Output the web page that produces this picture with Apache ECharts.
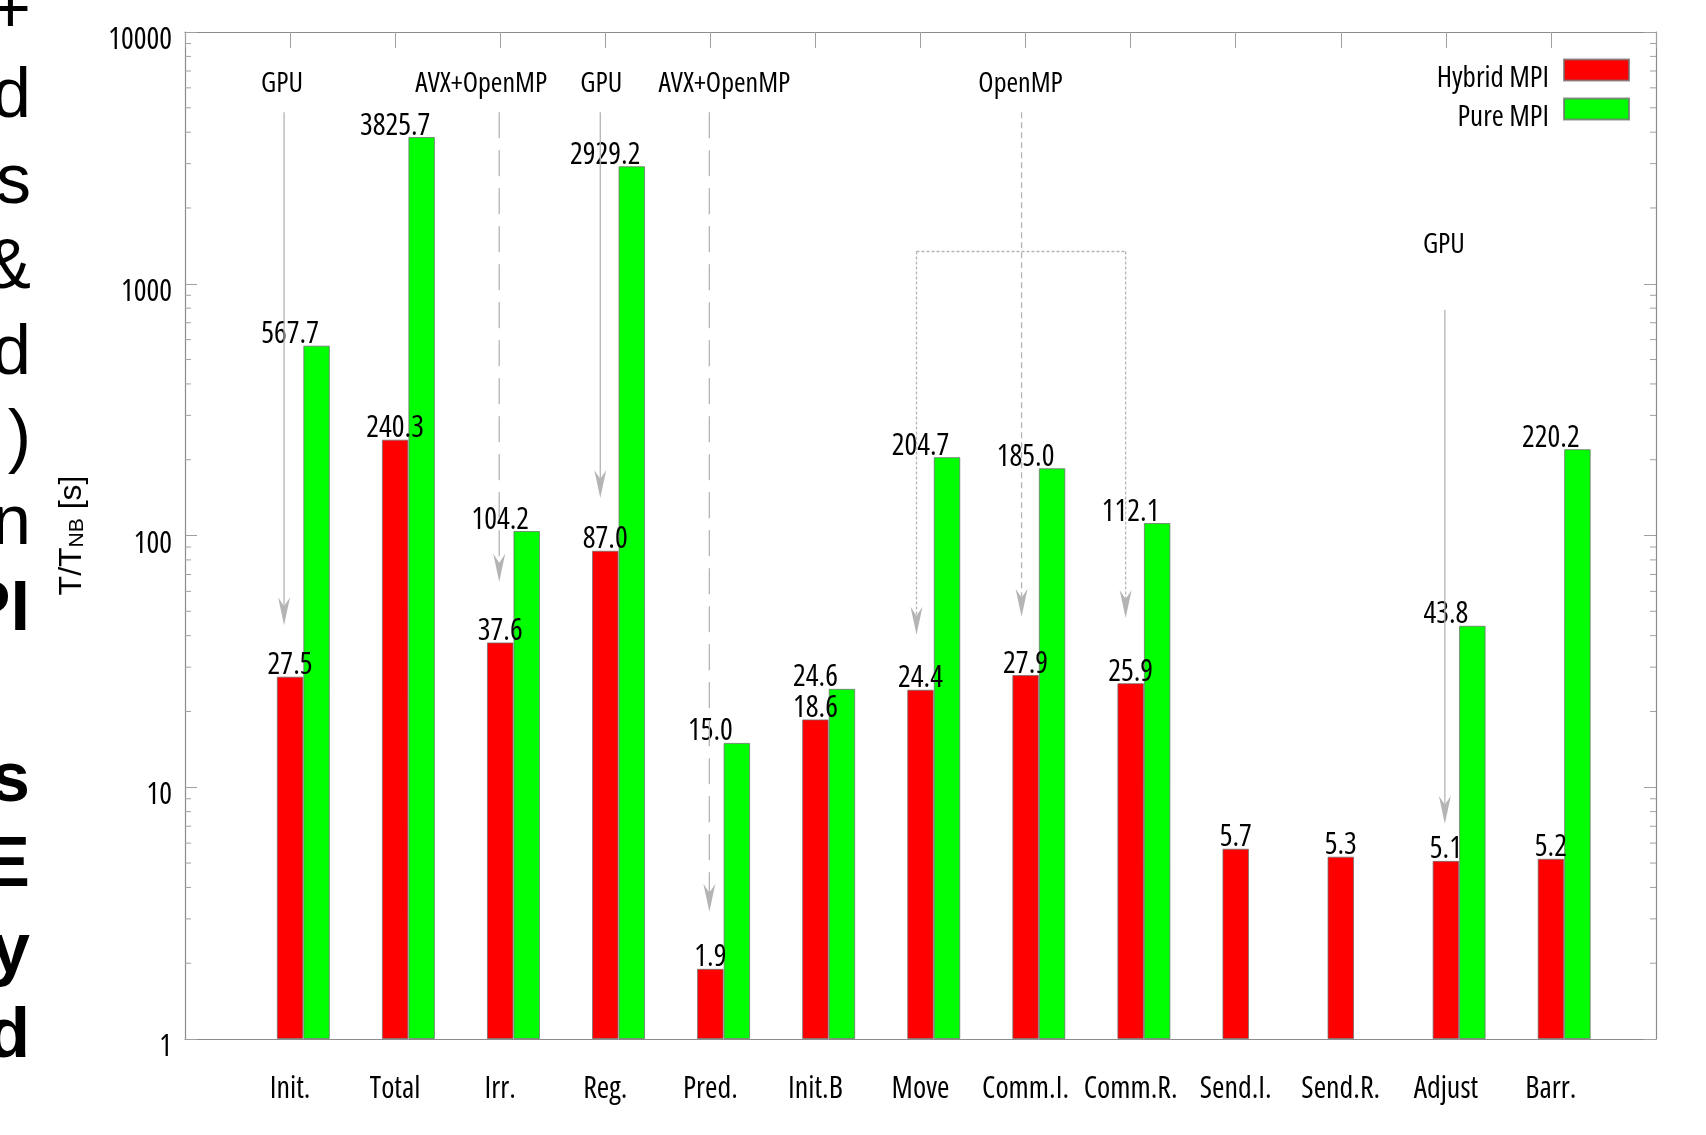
<!DOCTYPE html>
<html>
<head>
<meta charset="utf-8">
<script src="https://cdn.jsdelivr.net/npm/echarts@6/dist/echarts.min.js"></script>
<style>
  html, body { margin: 0; padding: 0; background: #fff; }
  #chart { width: 1706px; height: 1135px; }
</style>
</head>
<body>
<div id="chart"></div>
<script>
// ---- data -------------------------------------------------------------
const categories = ['Init.', 'Total', 'Irr.', 'Reg.', 'Pred.', 'Init.B', 'Move',
  'Comm.I.', 'Comm.R.', 'Send.I.', 'Send.R.', 'Adjust', 'Barr.'];
const hybridMPI = [27.5, 240.3, 37.6, 87.0, 1.9, 18.6, 24.4, 27.9, 25.9, 5.7, 5.3, 5.1, 5.2];
const pureMPI = [567.7, 3825.7, 104.2, 2929.2, 15.0, 24.6, 204.7, 185.0, 112.1, null, null, 43.8, 220.2];
const yTicks = [1, 10, 100, 1000, 10000];

// annotation texts (speed-up technique) and where they sit, in data units
const noteTexts = ['GPU', 'AVX+OpenMP', 'GPU', 'AVX+OpenMP', 'OpenMP', 'GPU'];
const noteCategories = ['Init.', 'Irr.', 'Reg.', 'Pred.', 'Comm.I.', 'Adjust'];
const noteValues = [6370, 6370, 6370, 6370, 6370, 1463];

// arrows: start / end value per category
const arrowCategories = ['Init.', 'Irr.', 'Reg.', 'Pred.', 'Comm.I.', 'Move', 'Comm.R.', 'Adjust'];
const arrowFrom = [4800, 4800, 4800, 4800, 4800, 1343, 1343, 789];
const arrowTo = [44, 65.5, 141, 3.2, 47.6, 40.3, 47, 7.16];

// horizontal bracket joining the OpenMP arrows
const bracketCategories = ['Move', 'Comm.R.'];
const bracketValue = 1343;

// line endings of the neighbouring text column, clipped by the page edge
const sideText = ['+', 'd', 's', '&', 'd', ')', 'n', 'PI', '', 's', 'E', 'y', 'd'];

// ---- look & layout ----------------------------------------------------
const COND = '"Open Sans"';          // used with the "condensed" stretch keyword
const STRETCH = 'condensed';
const SANS = '"Liberation Sans", Arial, Helvetica, sans-serif';
const FRAME = '#8c8c8c';
const TICK = '#a0a0a0';
const ARROW = '#b4b4b4';
const BAR_W = 26.5;

const noteDx = [-8, -19, -4, 14, -5, -2];
const noteDy = 3;
const arrowLook = [
  { dash: null, dx: -6 }, { dash: [26, 12], dx: -1 }, { dash: null, dx: -5 }, { dash: [26, 12], dx: -1 },
  { dash: [6, 4], dx: -4 }, { dash: [3, 2], dx: -4 }, { dash: [3, 2], dx: -5 }, { dash: null, dx: -1 }
];
const sideBoldFrom = 7;

// category axis padded with one empty slot on each side
const axisCats = [''].concat(categories, ['']);
const pad = arr => [null].concat(arr, [null]);
const catIndex = c => categories.indexOf(c) + 1;

// minor log ticks 2..9 in every decade
const minorTicks = [];
for (let d = 0; d < yTicks.length - 1; d++) {
  for (let m = 2; m <= 9; m++) minorTicks.push(m * yTicks[d]);
}

const fmt = p => (p.value == null ? '' : Number(p.value).toFixed(1));
const condText = size => ({ fontFamily: COND, fontWeight: STRETCH, fontSize: size, color: '#000' });

const chart = echarts.init(document.getElementById('chart'), null, { renderer: 'canvas' });

const sideGraphics = sideText.map((t, i) => ({
  type: 'text',
  x: i >= sideBoldFrom ? 30 : 31,
  y: 12.5 + i * 85.45,
  silent: true,
  style: {
    text: t,
    fill: '#000',
    font: (i >= sideBoldFrom ? 'bold ' : '') + '70px ' + SANS,
    align: 'right',
    verticalAlign: 'middle'
  }
}));

const option = {
  animation: false,
  backgroundColor: '#fff',
  graphic: sideGraphics,
  grid: { left: 185, right: 50, top: 32, bottom: 96, containLabel: false },
  legend: {
    data: ['Hybrid MPI', 'Pure MPI'],
    orient: 'vertical',
    align: 'right',
    right: 76,
    top: 58.5,
    padding: 0,
    itemWidth: 65,
    itemHeight: 21,
    itemGap: 4,
    icon: 'rect',
    formatter: name => '{n|' + name + '}',
    textStyle: Object.assign(condText(29), {
      rich: { n: Object.assign(condText(29), { padding: [9, 10, -9, 0] }) }
    })
  },
  xAxis: [
    {
      type: 'category', data: axisCats, boundaryGap: false, position: 'bottom',
      axisLine: { lineStyle: { color: FRAME, width: 1.2 } },
      axisTick: { show: false },
      axisLabel: Object.assign({ interval: 0, margin: 35 }, condText(30)),
      splitLine: { show: false }
    },
    {
      type: 'category', data: axisCats, boundaryGap: false, position: 'top',
      axisLine: { lineStyle: { color: FRAME, width: 1.2 } },
      axisTick: { show: true, inside: true, length: 16, interval: 0, lineStyle: { color: TICK } },
      axisLabel: { show: false },
      splitLine: { show: false }
    }
  ],
  yAxis: [
    {
      type: 'log', logBase: 10, min: yTicks[0], max: yTicks[yTicks.length - 1], position: 'left',
      axisLine: { show: true, lineStyle: { color: FRAME, width: 1.2 } },
      axisTick: { show: true, inside: true, length: 12, lineStyle: { color: TICK } },
      axisLabel: Object.assign({
        margin: 13, verticalAlign: 'top', lineHeight: 17,
        formatter: v => String(Math.round(v))
      }, condText(30)),
      splitLine: { show: false },
      name: '{t|T/T}{s|NB}{t| [s]}',
      nameLocation: 'middle',
      nameRotate: 90,
      nameGap: 97,
      nameTextStyle: {
        rich: {
          t: { fontFamily: SANS, fontSize: 32, color: '#000', verticalAlign: 'bottom' },
          s: { fontFamily: SANS, fontSize: 21, color: '#000', verticalAlign: 'bottom' }
        }
      }
    },
    {
      type: 'log', logBase: 10, min: yTicks[0], max: yTicks[yTicks.length - 1], position: 'right',
      axisLine: { show: true, lineStyle: { color: FRAME, width: 1.2 } },
      axisTick: { show: true, inside: true, length: 12, lineStyle: { color: TICK } },
      axisLabel: { show: false },
      splitLine: { show: false }
    }
  ],
  series: [
    {
      // empty slot on the left so the red bar sits on the category tick
      name: 'slot', type: 'bar', data: pad(categories.map(() => null)),
      barWidth: BAR_W, barGap: '0%', silent: true, itemStyle: { color: 'transparent' }
    },
    {
      name: 'Hybrid MPI', type: 'bar', data: pad(hybridMPI),
      barWidth: BAR_W, barGap: '0%',
      itemStyle: { color: '#ff0000', borderColor: 'rgba(110,110,110,0.75)', borderWidth: 1 },
      label: Object.assign({ show: true, position: 'top', distance: -4, formatter: fmt }, condText(30)),
      z: 3
    },
    {
      name: 'Pure MPI', type: 'bar', data: pad(pureMPI),
      barWidth: BAR_W, barGap: '0%',
      itemStyle: { color: '#00ff00', borderColor: 'rgba(110,110,110,0.75)', borderWidth: 1 },
      label: Object.assign({ show: true, position: 'top', distance: -4, offset: [-BAR_W, 0], formatter: fmt },
        condText(30)),
      z: 3
    },
    {
      // minor log ticks on left and right frame
      type: 'custom', name: 'minor', silent: true, clip: false, z: 4,
      data: minorTicks.map(v => [0, v]),
      renderItem: (params, api) => {
        const y = api.coord([0, api.value(1)])[1];
        const r = params.coordSys;
        const st = { stroke: TICK, lineWidth: 1 };
        return {
          type: 'group',
          children: [
            { type: 'line', shape: { x1: r.x, y1: y, x2: r.x + 6, y2: y }, style: st },
            { type: 'line', shape: { x1: r.x + r.width - 6, y1: y, x2: r.x + r.width, y2: y }, style: st }
          ]
        };
      }
    },
    {
      // annotation arrows
      type: 'custom', name: 'arrows', silent: true, clip: false, z: 5,
      data: arrowCategories.map((c, i) => [catIndex(c), arrowFrom[i], arrowTo[i]]),
      renderItem: (params, api) => {
        const look = arrowLook[params.dataIndex];
        const p0 = api.coord([api.value(0), api.value(1)]);
        const p1 = api.coord([api.value(0), api.value(2)]);
        const x = p0[0] + look.dx;
        const tip = p1[1];
        return {
          type: 'group',
          children: [
            { type: 'line', shape: { x1: x, y1: p0[1], x2: x, y2: tip - 18 },
              style: { stroke: ARROW, lineWidth: 1.3, lineDash: look.dash || null } },
            { type: 'polygon', shape: { points: [[x, tip], [x - 6, tip - 28], [x, tip - 19], [x + 6, tip - 28]] },
              style: { fill: ARROW } }
          ]
        };
      }
    },
    {
      // bracket across the OpenMP group
      type: 'custom', name: 'bracket', silent: true, clip: false, z: 5,
      data: [[catIndex(bracketCategories[0]), catIndex(bracketCategories[1]), bracketValue]],
      renderItem: (params, api) => {
        const a = api.coord([api.value(0), api.value(2)]);
        const b = api.coord([api.value(1), api.value(2)]);
        return {
          type: 'line',
          shape: { x1: a[0] + arrowLook[5].dx, y1: a[1], x2: b[0] + arrowLook[6].dx, y2: b[1] },
          style: { stroke: ARROW, lineWidth: 1.3, lineDash: [3, 2] }
        };
      }
    },
    {
      // technique labels
      type: 'custom', name: 'notes', silent: true, clip: false, z: 6,
      data: noteCategories.map((c, i) => [catIndex(c), noteValues[i]]),
      renderItem: (params, api) => {
        const p = api.coord([api.value(0), api.value(1)]);
        return {
          type: 'text',
          style: {
            text: noteTexts[params.dataIndex],
            x: p[0] + noteDx[params.dataIndex], y: p[1] + noteDy,
            fill: '#000', font: STRETCH + ' 28px ' + COND,
            align: 'center', verticalAlign: 'middle'
          }
        };
      }
    }
  ]
};

chart.setOption(option);
</script>
</body>
</html>
